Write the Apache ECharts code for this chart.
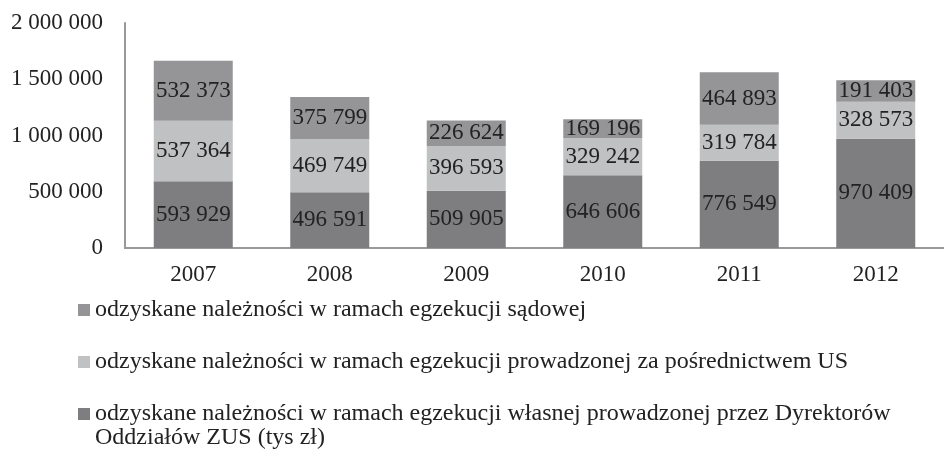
<!DOCTYPE html>
<html><head><meta charset="utf-8">
<script src="https://cdn.jsdelivr.net/npm/echarts@6/dist/echarts.min.js"></script>
<style>html,body{margin:0;padding:0;background:#fff}#c{width:944px;height:449px}</style>
</head><body><div id="c"></div>
<script>
const years = ['2007','2008','2009','2010','2011','2012'];
const wlasnej = [593929, 496591, 509905, 646606, 776549, 970409];
const us = [537364, 469749, 396593, 329242, 319784, 328573];
const sadowej = [532373, 375799, 226624, 169196, 464893, 191403];
const yTicks = [0, 500000, 1000000, 1500000, 2000000];
const names = [
  'odzyskane należności w ramach egzekucji sądowej',
  'odzyskane należności w ramach egzekucji prowadzonej za pośrednictwem US',
  'odzyskane należności w ramach egzekucji własnej prowadzonej przez Dyrektorów'
];
const name3Line2 = 'Oddziałów ZUS (tys zł)';
const fmt = v => String(v).replace(/\B(?=(\d{3})+(?!\d))/g, ' ');
const FONT = '"Liberation Serif", "DejaVu Serif", serif';
const chart = echarts.init(document.getElementById('c'));
const lbl = {show:true, position:'inside', color:'#222', fontFamily:FONT, fontSize:23, formatter:p=>fmt(p.value)};
chart.setOption({
  animation:false,
  grid:{left:125, right:-11, top:23, bottom:201},
  xAxis:{type:'category', data:years,
    axisLine:{lineStyle:{color:'#999', width:2}}, axisTick:{show:false},
    axisLabel:{color:'#222', fontFamily:FONT, fontSize:23, margin:15}},
  yAxis:{type:'value', min:yTicks[0], max:yTicks[yTicks.length-1], interval:yTicks[1]-yTicks[0],
    axisLine:{show:true, lineStyle:{color:'#999', width:2}}, axisTick:{show:false},
    splitLine:{show:false},
    axisLabel:{color:'#222', fontFamily:FONT, fontSize:23, margin:22, formatter:v=>fmt(v)}},
  legend:{orient:'vertical', left:78, top:297, padding:0, itemGap:26, itemWidth:12, itemHeight:12, icon:'rect',
    data:[names[0], names[1], names[2]],
    textStyle:{color:'#222', fontFamily:FONT, fontSize:24, lineHeight:26}},
  graphic:[{type:'text', left:95, top:426,
    style:{text:name3Line2, fill:'#222', font:'24px "Liberation Serif", serif'}}],
  series:[
    {name:names[2], type:'bar', stack:'a', data:wlasnej, barWidth:79, itemStyle:{color:'#7e7e80'}, label:lbl},
    {name:names[1], type:'bar', stack:'a', data:us, itemStyle:{color:'#c0c1c3'}, label:lbl},
    {name:names[0], type:'bar', stack:'a', data:sadowej, itemStyle:{color:'#959597'}, label:lbl}
  ]
});
</script></body></html>
